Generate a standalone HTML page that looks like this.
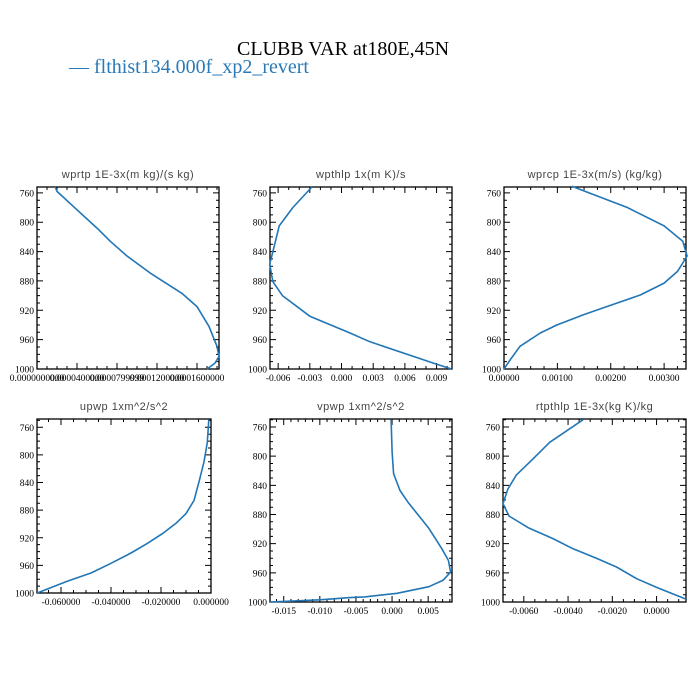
<!DOCTYPE html>
<html><head><meta charset="utf-8">
<style>
html,body{margin:0;padding:0;background:#fff;}
svg{display:block;}
.ttl{font-family:"Liberation Sans",sans-serif;font-size:11px;fill:#444;letter-spacing:0.5px;}
.tk{font-family:"Liberation Serif",serif;font-size:9.5px;fill:#000;}
</style></head>
<body>
<svg id="chart" width="700" height="700" viewBox="0 0 700 700" xmlns="http://www.w3.org/2000/svg">
<rect width="700" height="700" fill="#fff"/>
<text x="237" y="55" font-family="Liberation Serif, serif" font-size="20" fill="#000">CLUBB VAR at180E,45N</text>
<text x="69" y="73" font-family="Liberation Serif, serif" font-size="20" fill="#2a7ab8">— flthist134.000f_xp2_revert</text>
</svg>
<script>
// Pressure levels (hPa) and series values per panel
const yTicks = [760, 800, 840, 880, 920, 960, 1000];

const wprtpP = [752,758,783,808,826,846,869,897,915,942,969,983,992,1000];
const wprtpV = [0.0000183,0.00002,0.00004,0.00006,0.0000733,0.00009,0.000113,0.000145,0.00016,0.000172,0.00018,0.000182,0.000178,0.00017];
const wprtpTicks = [0, 0.00004, 0.00008, 0.00012, 0.00016];
const wprtpLabels = ["0.0000000000","0.0000400000","0.0000799999","0.0001200000","0.0001600000"];

const wpthlpP = [752,780,805,840,857,881,900,928,951,963,992,1000];
const wpthlpV = [-0.0028,-0.0046,-0.0059,-0.0065,-0.0068,-0.0065,-0.0056,-0.003,0.0008,0.0027,0.0087,0.0104];
const wpthlpTicks = [-0.006,-0.003,0,0.003,0.006,0.009];
const wpthlpLabels = ["-0.006","-0.003","0.000","0.003","0.006","0.009"];

const wprcpP = [751,780,805,826,846,867,883,899,913,926,940,951,969,987,1000];
const wprcpV = [0.00127,0.00231,0.0030,0.00335,0.00343,0.00325,0.0030,0.00256,0.0020,0.00149,0.00099,0.00068,0.0003,0.00012,0];
const wprcpTicks = [0,0.001,0.002,0.003];
const wprcpLabels = ["0.00000","0.00100","0.00200","0.00300"];

const upwpP = [749,782,810,839,866,885,899,914,928,942,957,971,983,1000];
const upwpV = [-0.0009,-0.0015,-0.0028,-0.0048,-0.0068,-0.010,-0.014,-0.0194,-0.0254,-0.032,-0.040,-0.048,-0.0575,-0.0695];
const upwpTicks = [-0.06,-0.04,-0.02,0];
const upwpLabels = ["-0.060000","-0.040000","-0.020000","0.000000"];

const vpwpP = [750,794,824,847,863,899,927,943,959,970,979,988,993,994,997,1000];
const vpwpV = [-0.00013,0,0.00022,0.0011,0.0022,0.0051,0.0069,0.0078,0.0081,0.0071,0.0051,0.0007,-0.0038,-0.0058,-0.010,-0.0169];
const vpwpTicks = [-0.015,-0.01,-0.005,0,0.005];
const vpwpLabels = ["-0.015","-0.010","-0.005","0.000","0.005"];

const rtpthlpP = [750,781,806,826,845,865,882,898,913,927,940,952,968,980,996];
const rtpthlpV = [-0.00332,-0.00483,-0.00566,-0.00634,-0.00672,-0.00694,-0.00667,-0.00581,-0.00468,-0.00377,-0.00272,-0.00181,-0.0009,0,0.00133];
const rtpthlpTicks = [-0.006,-0.004,-0.002,0];
const rtpthlpLabels = ["-0.0060","-0.0040","-0.0020","0.0000"];

const NS = "http://www.w3.org/2000/svg";
const svg = document.getElementById('chart');
function mk(tag, attrs, parent){const e=document.createElementNS(NS,tag);for(const k in attrs)e.setAttribute(k,attrs[k]);(parent||svg).appendChild(e);return e;}

function panel(name,title,box,xr,yr,P,V,xt,xl,xsub){
  const g = mk('g',{});
  
  
  const [x0,y0,x1,y1]=box;
  const sx=v=>x0+(v-xr[0])/(xr[1]-xr[0])*(x1-x0);
  const sy=p=>y0+(p-yr[0])/(yr[1]-yr[0])*(y1-y0);
  const t = mk('text',{x:(x0+x1)/2,y:y0-9,'text-anchor':'middle','class':'ttl'},g);
  t.textContent=title;
  
  
  let d='';
  // y ticks
  for(let p=Math.ceil(yr[0]/10)*10;p<=yr[1];p+=10){
    const y=sy(p); const maj=(p%40===0);const L=maj?6:3;
    d+=`M${x0},${y}h${L}M${x1},${y}h${-L}`;
  }
  yTicks.forEach(p=>{const lab=mk('text',{x:x0-3,y:sy(p)+3.5,'text-anchor':'end','class':'tk'},g);lab.textContent=p;
    
    });
  // x ticks
  const step=xt[1]-xt[0];
  for(let i=-2;i<xt.length+2;i++){
    for(let s=0;s<xsub;s++){
      const v=xt[0]+i*step+s*step/xsub;
      if(v<xr[0]-1e-12||v>xr[1]+1e-12)continue;
      const x=sx(v);const L=s===0?6:3;
      d+=`M${x},${y1}v${-L}M${x},${y0}v${L}`;
    }
  }
  xt.forEach((v,i)=>{const lab=mk('text',{x:sx(v),y:y1+12,'text-anchor':'middle','class':'tk'},g);lab.textContent=xl[i];
    
    });
  const tk=mk('path',{d:d,stroke:'#000','stroke-width':1,fill:'none'},g);
  
  
  const fr=mk('rect',{x:x0,y:y0,width:x1-x0,height:y1-y0,fill:'none',stroke:'#000','stroke-width':1.3},g);
  
  
  const pts=P.map((p,i)=>sx(V[i]).toFixed(1)+','+sy(p).toFixed(1)).join(' ');
  const ln=mk('polyline',{points:pts,fill:'none',stroke:'#2176b6','stroke-width':1.6,'stroke-linejoin':'round'},g);
  
  
}

panel('wprtp','wprtp  1E-3x(m kg)/(s kg)',[37,187,219,369],[0,0.000182],[752,1000],wprtpP,wprtpV,wprtpTicks,wprtpLabels,4);
panel('wpthlp','wpthlp  1x(m K)/s',[270,187,452,369],[-0.00677,0.01046],[752,1000],wpthlpP,wpthlpV,wpthlpTicks,wpthlpLabels,3);
panel('wprcp','wprcp  1E-3x(m/s) (kg/kg)',[504,187,686,369],[0,0.00341],[752,1000],wprcpP,wprcpV,wprcpTicks,wprcpLabels,4);
panel('upwp','upwp  1xm^2/s^2',[37,419,211,593],[-0.0696,0],[748,1000],upwpP,upwpV,upwpTicks,upwpLabels,4);
panel('vpwp','vpwp  1xm^2/s^2',[270,419,452,602],[-0.0169,0.0083],[749,1000],vpwpP,vpwpV,vpwpTicks,vpwpLabels,5);
panel('rtpthlp','rtpthlp  1E-3x(kg K)/kg',[503,419,686,602],[-0.00694,0.00133],[749,1000],rtpthlpP,rtpthlpV,rtpthlpTicks,rtpthlpLabels,4);
</script>
</body></html>
